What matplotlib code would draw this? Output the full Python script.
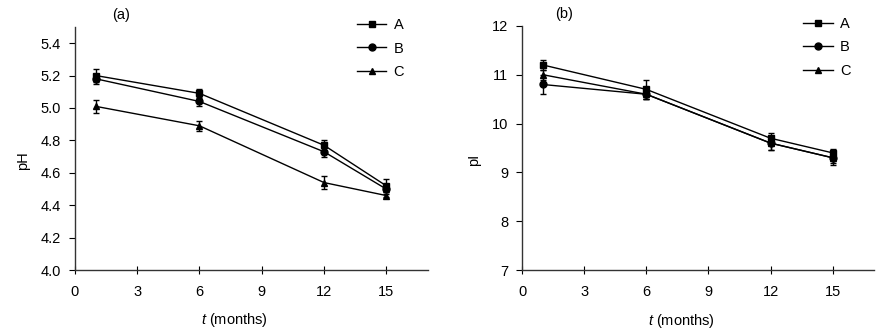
import matplotlib
matplotlib.use("Agg")
import matplotlib.pyplot as plt

plt.rcParams['font.family'] = ['Liberation Sans', 'DejaVu Sans']
plt.rcParams['mathtext.fontset'] = 'custom'
plt.rcParams['mathtext.rm'] = 'Liberation Sans'
plt.rcParams['mathtext.it'] = 'Liberation Sans:italic'

months = [1, 6, 12, 15]
series_names = ["A", "B", "C"]
markers = ["s", "o", "^"]

ph_A = [5.20, 5.09, 4.77, 4.52]
ph_B = [5.18, 5.04, 4.73, 4.50]
ph_C = [5.01, 4.89, 4.54, 4.46]
ph_err_A = [0.04, 0.03, 0.03, 0.04]
ph_err_B = [0.03, 0.03, 0.03, 0.02]
ph_err_C = [0.04, 0.03, 0.04, 0.01]

pi_A = [11.2, 10.7, 9.7, 9.4]
pi_B = [10.8, 10.6, 9.6, 9.3]
pi_C = [11.0, 10.6, 9.6, 9.3]
pi_err_A = [0.1, 0.2, 0.1, 0.07]
pi_err_B = [0.2, 0.1, 0.15, 0.15]
pi_err_C = [0.1, 0.1, 0.15, 0.1]

fs = 10.5
fig = plt.figure(figsize=(8.82, 3.36), dpi=100)
ax1 = fig.add_axes([0.085, 0.196, 0.400, 0.724])
ax2 = fig.add_axes([0.592, 0.196, 0.399, 0.727])

def draw(ax, ys, errs, ylim, yticks, ylabel, tag, tagx):
    for name, m, y, e in zip(series_names, markers, ys, errs):
        ax.errorbar(months, y, yerr=e, color='black', marker=m, markersize=5,
                    linewidth=1.0, elinewidth=1.0, capsize=2, capthick=1.0, label=name)
    ax.set_xlim(0, 17)
    ax.set_ylim(*ylim)
    ax.set_xticks([0, 3, 6, 9, 12, 15])
    ax.set_yticks(yticks)
    for s in ['top', 'right']:
        ax.spines[s].set_visible(False)
    for s in ['left', 'bottom']:
        ax.spines[s].set_color('#333333')
        ax.spines[s].set_linewidth(1.0)
    ax.tick_params(axis='y', direction='out', length=4, labelsize=fs, colors='black', pad=6)
    ax.tick_params(axis='x', direction='inout', length=6, labelsize=fs, colors='black', pad=8)
    ax.set_xlabel(r'$t$ (months)', fontsize=fs, labelpad=10)
    ax.xaxis.set_label_coords(0.452, -0.17)
    ax.set_ylabel(ylabel, fontsize=fs, labelpad=8)
    ax.yaxis.label.set_y(0.45)
    ax.text(tagx, 1.05, tag, transform=ax.transAxes, fontsize=fs, ha='center', va='center')
    handles, labels = ax.get_legend_handles_labels()
    handles = [h[0] for h in handles]
    ax.legend(handles, labels, loc='upper right', frameon=False, fontsize=fs,
              bbox_to_anchor=(0.97, 1.09), handlelength=2.0, labelspacing=0.65, handletextpad=0.5)

draw(ax1, [ph_A, ph_B, ph_C], [ph_err_A, ph_err_B, ph_err_C], (4.0, 5.5),
     [4.0, 4.2, 4.4, 4.6, 4.8, 5.0, 5.2, 5.4], 'pH', '(a)', 0.13)
ax1.set_yticklabels([f"{v:.1f}" for v in [4.0, 4.2, 4.4, 4.6, 4.8, 5.0, 5.2, 5.4]])
draw(ax2, [pi_A, pi_B, pi_C], [pi_err_A, pi_err_B, pi_err_C], (7, 12),
     [7, 8, 9, 10, 11, 12], 'pI', '(b)', 0.12)

fig.savefig('out.png', dpi=100)
